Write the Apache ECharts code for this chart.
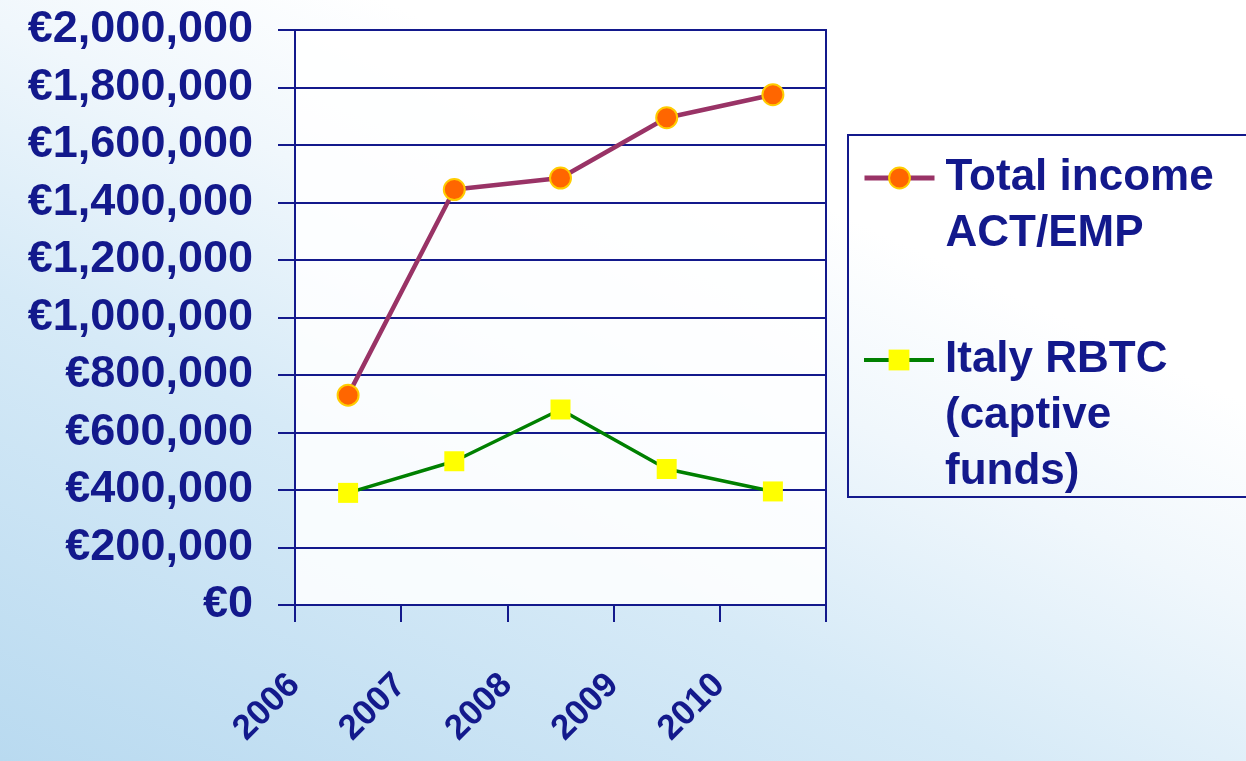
<!DOCTYPE html>
<html>
<head>
<meta charset="utf-8">
<script src="https://cdn.jsdelivr.net/npm/echarts@6/dist/echarts.min.js"></script>
<style>
html,body{margin:0;padding:0;width:1246px;height:761px;overflow:hidden;
background:linear-gradient(25deg,#b9daf0 0%,#d6eaf7 35%,#f0f7fc 55%,#ffffff 70%);}
#c{width:1246px;height:761px;}
</style>
</head>
<body>
<div id="c"></div>
<script>
const categories = ['2006','2007','2008','2009','2010'];
const totalIncome = [730000, 1445000, 1485000, 1695000, 1775000];
const italyRBTC = [390000, 500000, 680000, 473000, 395000];
const seriesNames = ['Total income\nACT/EMP', 'Italy RBTC\n(captive\nfunds)'];

const NAVY = '#13198C';
const FONT = 'Liberation Sans, Arial, sans-serif';
const legendText = {color: NAVY, fontSize: 44, fontWeight: 'bold', lineHeight: 56, fontFamily: FONT,
                    padding: [0, 0, 0, 6]};
const chart = echarts.init(document.getElementById('c'), null, {renderer:'canvas'});
chart.setOption({
  backgroundColor: 'transparent',
  textStyle: {fontFamily: FONT},
  grid: {left: 295, right: 420, top: 30, bottom: 156, show: true,
         backgroundColor: 'rgba(255,255,255,0.85)', borderColor: NAVY, borderWidth: 2},
  xAxis: {
    type: 'category', data: categories, boundaryGap: true,
    axisLine: {lineStyle: {color: NAVY, width: 2}},
    axisTick: {show: true, length: 17, inside: false, interval: 0, lineStyle: {color: NAVY, width: 2}},
    axisLabel: {rotate: 45, interval: 0, margin: 21, color: NAVY, fontSize: 35, fontWeight: 'bold',
                padding: [0, 76, 0, 0], fontFamily: FONT}
  },
  yAxis: {
    type: 'value', min: 0, max: 2000000, interval: 200000,
    axisLine: {show: true, lineStyle: {color: NAVY, width: 2}},
    axisTick: {show: true, length: 17, lineStyle: {color: NAVY, width: 2}},
    splitLine: {show: true, lineStyle: {color: NAVY, width: 2}},
    axisLabel: {color: NAVY, fontSize: 45, fontWeight: 'bold', margin: 42, fontFamily: FONT,
                formatter: v => '€' + v.toLocaleString('en-US')}
  },
  legend: [
    {orient: 'vertical', left: 862, top: 94, padding: 0, itemWidth: 70, itemHeight: 26,
     data: [seriesNames[0]], formatter: n => '\n' + n, textStyle: legendText,
     lineStyle: {width: 5}},
    {orient: 'vertical', left: 862, top: 220, padding: 0, itemWidth: 70, itemHeight: 26,
     data: [seriesNames[1]], formatter: n => '\n\n' + n, textStyle: legendText,
     lineStyle: {width: 4}}
  ],
  graphic: [{
    type: 'rect', shape: {x: 848, y: 135, width: 420, height: 362},
    style: {fill: 'transparent', stroke: NAVY, lineWidth: 2}, z: -1
  }],
  series: [
    {name: seriesNames[0], type: 'line', data: totalIncome, symbol: 'circle', symbolSize: 21,
     lineStyle: {color: '#993366', width: 4.5},
     itemStyle: {color: '#FF6600', borderColor: '#FFCC00', borderWidth: 2}},
    {name: seriesNames[1], type: 'line', data: italyRBTC, symbol: 'rect', symbolSize: 20,
     lineStyle: {color: '#008000', width: 3.5},
     itemStyle: {color: '#FFFF00', borderWidth: 0}}
  ],
  animation: false
});
</script>
</body>
</html>
